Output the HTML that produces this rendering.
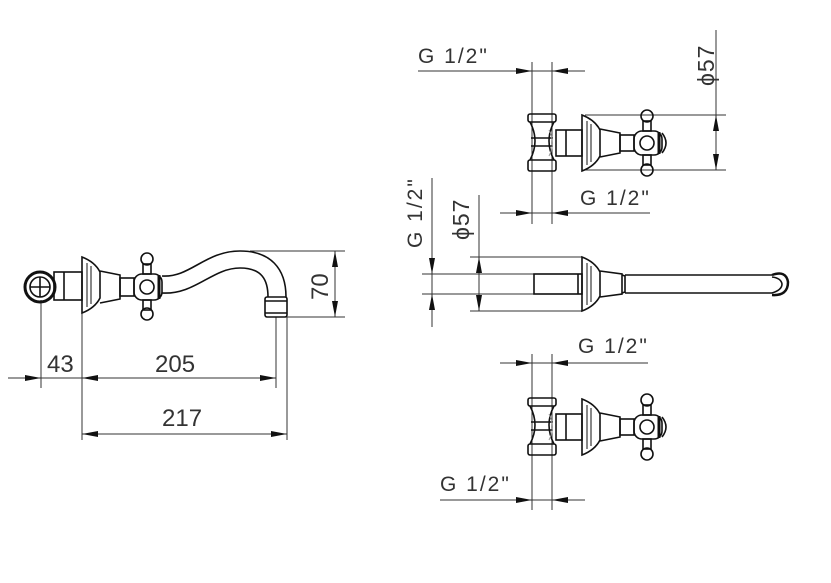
<!DOCTYPE html>
<html><head><style>
html,body{margin:0;padding:0;background:#fff;}
svg{display:block;}
text{font-family:"Liberation Sans",sans-serif;font-size:21px;fill:#333;}
.n{font-size:24px;}
</style></head><body>
<svg width="831" height="583" viewBox="0 0 831 583" xmlns="http://www.w3.org/2000/svg">
<defs>
<g id="valve" fill="none" stroke="#111" stroke-width="1.6">
  <rect x="528" y="114" width="28" height="8" rx="2"/>
  <path d="M530,122 Q540,141 530,160 M554,122 Q544,141 554,160"/>
  <line x1="531" y1="138" x2="553" y2="138"/><line x1="531" y1="146" x2="553" y2="146"/>
  <rect x="528" y="160" width="28" height="11" rx="2"/>
  <path d="M549,130 Q556,143 549,156" stroke="#999" stroke-width="1"/>
  <rect x="556" y="130" width="26" height="26"/>
  <line x1="566" y1="130" x2="566" y2="156"/>
  <path d="M582,115 L582,171 Q595,166 600,156 L600,130 Q595,120 582,115Z"/>
  <line x1="587" y1="121" x2="587" y2="165" stroke-width="1"/>
  <line x1="591" y1="124" x2="591" y2="162" stroke-width="1"/>
  <path d="M600,129 L620,133 L620,153 L600,157"/>
  <rect x="620" y="135" width="14" height="16"/>
  <rect x="634" y="131" width="28" height="24" rx="8"/>
  <circle cx="647" cy="143" r="7"/>
  <path d="M662,133 Q670,143 662,153"/>
  <line x1="659" y1="132" x2="659" y2="154" stroke-width="3"/>
  <rect x="643" y="121" width="8" height="10"/><rect x="643" y="155" width="8" height="10"/>
  <circle cx="647" cy="116" r="6"/><circle cx="647" cy="170" r="6"/>
</g>
<g id="arr"><path d="M0,0 L-16,-3 L-16,3Z" fill="#111"/></g>
</defs>

<g stroke="#333" stroke-width="1" fill="none">
<line x1="41" y1="300" x2="41" y2="388"/>
<line x1="82" y1="312" x2="82" y2="440"/>
<line x1="276" y1="317" x2="276" y2="388"/>
<line x1="287" y1="317" x2="287" y2="440"/>
<line x1="8" y1="378" x2="276" y2="378"/>
<line x1="82" y1="434" x2="287" y2="434"/>
<line x1="250" y1="251" x2="345" y2="251"/>
<line x1="287" y1="317" x2="345" y2="317"/>
<line x1="335" y1="251" x2="335" y2="317"/>
<line x1="532" y1="62" x2="532" y2="224"/><line x1="552" y1="62" x2="552" y2="224"/>
<line x1="418" y1="71" x2="585" y2="71"/>
<line x1="500" y1="213" x2="650" y2="213"/>
<line x1="585" y1="115" x2="726" y2="115"/><line x1="585" y1="170" x2="726" y2="170"/>
<line x1="716" y1="30" x2="716" y2="170"/>
<line x1="432" y1="178" x2="432" y2="327"/>
<line x1="479" y1="195" x2="479" y2="311"/>
<line x1="422" y1="274" x2="540" y2="274"/><line x1="422" y1="294" x2="540" y2="294"/>
<line x1="470" y1="257" x2="582" y2="257"/><line x1="470" y1="311" x2="582" y2="311"/>
<line x1="532" y1="354" x2="532" y2="510"/><line x1="552" y1="354" x2="552" y2="510"/>
<line x1="500" y1="363" x2="648" y2="363"/>
<line x1="440" y1="500" x2="585" y2="500"/>
</g>

<use href="#arr" transform="translate(41,378)"/>
<use href="#arr" transform="translate(82,378) rotate(180)"/>
<use href="#arr" transform="translate(276,378)"/>
<use href="#arr" transform="translate(82,434) rotate(180)"/>
<use href="#arr" transform="translate(287,434)"/>
<use href="#arr" transform="translate(335,251) rotate(-90)"/>
<use href="#arr" transform="translate(335,317) rotate(90)"/>
<use href="#arr" transform="translate(532,71)"/>
<use href="#arr" transform="translate(552,71) rotate(180)"/>
<use href="#arr" transform="translate(532,213)"/>
<use href="#arr" transform="translate(552,213) rotate(180)"/>
<use href="#arr" transform="translate(716,115) rotate(-90)"/>
<use href="#arr" transform="translate(716,170) rotate(90)"/>
<use href="#arr" transform="translate(432,274) rotate(90)"/>
<use href="#arr" transform="translate(432,294) rotate(-90)"/>
<use href="#arr" transform="translate(479,257) rotate(-90)"/>
<use href="#arr" transform="translate(479,311) rotate(90)"/>
<use href="#arr" transform="translate(532,363)"/>
<use href="#arr" transform="translate(552,363) rotate(180)"/>
<use href="#arr" transform="translate(532,500)"/>
<use href="#arr" transform="translate(552,500) rotate(180)"/>

<use href="#valve"/>
<use href="#valve" transform="translate(0,284)"/>

<g fill="none" stroke="#111" stroke-width="1.6">
  <circle cx="40" cy="287" r="15" stroke-width="3"/>
  <circle cx="40" cy="287" r="10"/>
  <line x1="30" y1="287" x2="50" y2="287"/><line x1="40" y1="277" x2="40" y2="297"/>
  <rect x="54" y="272" width="28" height="28"/>
  <line x1="64" y1="272" x2="64" y2="300"/>
  <path d="M82,257 L82,313 Q95,308 100,298 L100,272 Q95,262 82,257Z"/>
  <line x1="87" y1="263" x2="87" y2="307" stroke-width="1"/>
  <line x1="91" y1="266" x2="91" y2="304" stroke-width="1"/>
  <path d="M100,271 L120,275 L120,299 L100,303"/>
  <rect x="120" y="278" width="14" height="18"/>
  <rect x="134" y="274" width="28" height="26" rx="8"/>
  <circle cx="147" cy="287" r="7"/>
  <line x1="159" y1="275" x2="159" y2="299" stroke-width="3"/>
  <rect x="143" y="264" width="8" height="10"/><rect x="143" y="300" width="8" height="10"/>
  <circle cx="147" cy="259" r="6"/><circle cx="147" cy="314" r="6"/>
  <path d="M162,276 C190,278 205,251 240,251 C270,251 286,268 286,297"/>
  <path d="M162,293 C195,295 212,268 240,268 C262,268 268,280 268,297"/>
  <rect x="265" y="297" width="22" height="20" rx="2"/>
  <line x1="265" y1="301" x2="287" y2="301"/><line x1="265" y1="313" x2="287" y2="313"/>
</g>

<g fill="none" stroke="#111" stroke-width="1.6">
  <rect x="534" y="274" width="48" height="20"/>
  <line x1="578" y1="274" x2="578" y2="294"/>
  <path d="M582,257 L582,311 Q595,306 600,296 L600,272 Q595,262 582,257Z"/>
  <line x1="587" y1="263" x2="587" y2="305" stroke-width="1"/>
  <line x1="591" y1="266" x2="591" y2="302" stroke-width="1"/>
  <path d="M600,271 L622,274 L622,294 L600,297"/>
  <path d="M622,275 L625,276 L625,292 L622,293"/>
  <line x1="625" y1="275" x2="772" y2="275"/>
  <line x1="625" y1="293" x2="772" y2="293"/>
  <path d="M772,275 Q786,270 788,282 Q788,296 772,295" stroke-width="2.5"/>
  <path d="M772,293 Q782,290 782,284 Q781,278 772,277"/>
</g>

<text class="n" x="47" y="372">43</text>
<text class="n" x="155" y="372">205</text>
<text class="n" x="162" y="426">217</text>
<text class="n" transform="translate(328,300) rotate(-90)">70</text>
<text x="418" y="63" letter-spacing="2">G 1/2"</text>
<text x="580" y="205" letter-spacing="2">G 1/2"</text>
<text transform="translate(714,86) rotate(-90)" style="font-size:23px" letter-spacing="1">ϕ57</text>
<text transform="translate(422,248) rotate(-90)" letter-spacing="2">G 1/2"</text>
<text transform="translate(469,240) rotate(-90)" style="font-size:23px" letter-spacing="1">ϕ57</text>
<text x="578" y="353" letter-spacing="2">G 1/2"</text>
<text x="440" y="491" letter-spacing="2">G 1/2"</text>
</svg>
</body></html>
